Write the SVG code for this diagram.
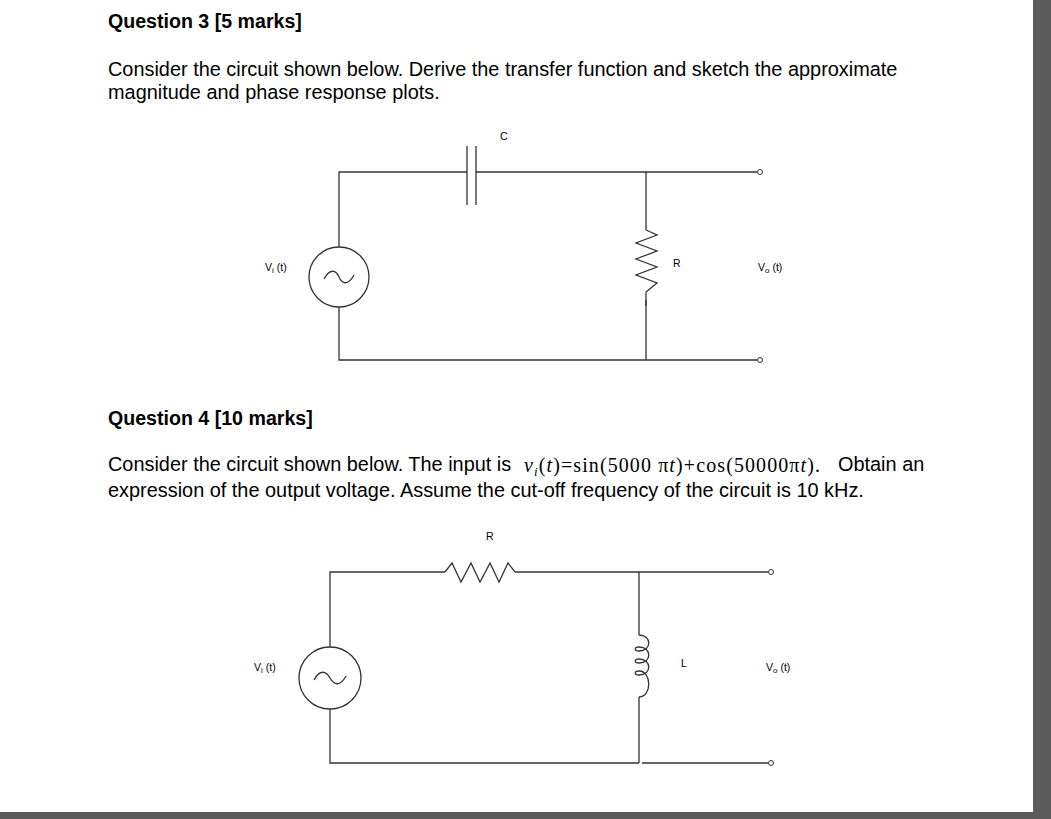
<svg xmlns="http://www.w3.org/2000/svg" width="1051" height="819" viewBox="0 0 1051 819">
<style>
.w{fill:none;stroke:#333;stroke-width:1.3}
.t{font-family:"Liberation Sans",Arial,sans-serif;fill:#000}
.h{font-size:19.6px;font-weight:bold}
.b{font-size:19.9px}
.s{font-size:10.5px}
.m{font-family:"Liberation Serif","Times New Roman",serif;font-size:20px}
</style>
<rect width="1051" height="819" fill="#5a5a5a"/>
<rect x="0" y="0" width="1033" height="812" fill="#fff"/>
<g id="text">
<text class="t h" x="108" y="28">Question 3 [5 marks]</text>
<text class="t b" x="108" y="76">Consider the circuit shown below. Derive the transfer function and sketch the approximate</text>
<text class="t b" x="108" y="99">magnitude and phase response plots.</text>
<text class="t h" x="108" y="425">Question 4 [10 marks]</text>
<text class="t b" x="108" y="471">Consider the circuit shown below. The input is</text>
<text class="m" x="524" y="472" textLength="296" lengthAdjust="spacing"><tspan font-style="italic">v</tspan><tspan font-style="italic" font-size="13" dy="4">i</tspan><tspan dy="-4">(</tspan><tspan font-style="italic">t</tspan>)=sin(5000 π<tspan font-style="italic">t</tspan>)+cos(50000π<tspan font-style="italic">t</tspan>).</text>
<text class="t b" x="838" y="471">Obtain an</text>
<text class="t b" x="108" y="497">expression of the output voltage.  Assume the cut-off frequency of the circuit is 10 kHz.</text>
</g>
<g id="circuit1">
<g id="c1-wires">
<path class="w" d="M467,172 H339 V247 M339,307 V360 H646 M476,172 H757 M646,172 V230 M646,300 V360 M646,360 H757"/>
<path class="w" d="M646,292 V306" stroke-width="2"/>
</g>
<g id="c1-C"><path class="w" d="M467,146 V205 M476,146 V205"/><text class="t s" x="500" y="140">C</text></g>
<g id="c1-R"><path class="w" d="M646,230 L657,235 L636,243 L657,251 L636,259 L657,267 L636,275 L657,283 L646,292"/><text class="t s" x="673" y="267">R</text></g>
<g id="c1-src"><circle class="w" cx="339" cy="277" r="30"/><path class="w" d="M324,279 C330,268 336,270 339,277 C342,284 348,286 354,275"/><text class="t s" x="265" y="271">V<tspan font-size="8" dy="2">i</tspan><tspan dy="-2"> (t)</tspan></text></g>
<g id="c1-out"><circle cx="760" cy="172" r="2.5" fill="#fff" stroke="#333"/><circle cx="760" cy="360" r="2.5" fill="#fff" stroke="#333"/><text class="t s" x="758" y="271">V<tspan font-size="8" dy="2">o</tspan><tspan dy="-2"> (t)</tspan></text></g>
</g>
<g id="circuit2">
<g id="c2-wires"><path class="w" d="M445,572 H330 V647 M330,709 V763 H639 M515,572 H768 M639,572 V635 M639,697 V763 M642,763 H768"/></g>
<g id="c2-R"><path class="w" d="M445,572 L452,563 L461,582 L471,563 L480,582 L490,563 L499,582 L508,563 L515,572"/><text class="t s" x="486" y="540">R</text></g>
<g id="c2-L"><path class="w" d="M639,635 C652,635 652,651 639,651 C634,651 634,647 639,647 C652,647 652,663 639,663 C634,663 634,659 639,659 C652,659 652,675 639,675 C634,675 634,671 639,671 C652,671 652,697 639,697"/><text class="t s" x="681" y="667">L</text></g>
<g id="c2-src"><circle class="w" cx="330" cy="678" r="31"/><path class="w" d="M314,680 C320,669 326,671 330,678 C334,685 340,687 346,676"/><text class="t s" x="254" y="671">V<tspan font-size="8" dy="2">i</tspan><tspan dy="-2"> (t)</tspan></text></g>
<g id="c2-out"><circle cx="771" cy="572" r="2.5" fill="#fff" stroke="#333"/><circle cx="771" cy="763" r="2.5" fill="#fff" stroke="#333"/><text class="t s" x="766" y="671">V<tspan font-size="8" dy="2">o</tspan><tspan dy="-2"> (t)</tspan></text></g>
</g>
</svg>
